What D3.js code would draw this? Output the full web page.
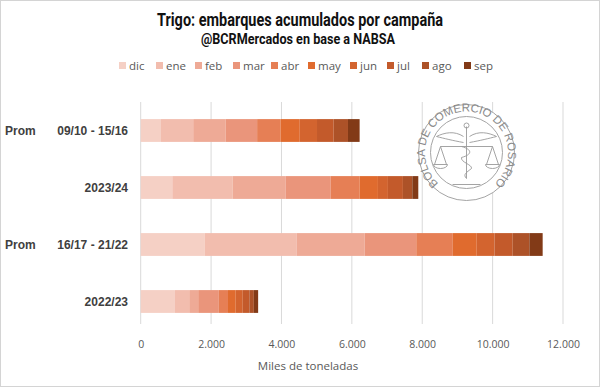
<!DOCTYPE html>
<html>
<head>
<meta charset="utf-8">
<script src="https://cdn.jsdelivr.net/npm/d3@7"></script>
<style>
  body { margin: 0; background: #fff; }
  svg { display: block; }
</style>
</head>
<body>
<div id="chart"></div>
<script>
// campaigns, top to bottom
var campaigns = ["Prom 09/10 - 15/16", "2023/24", "Prom 16/17 - 21/22", "2022/23"];
var months = ["dic", "ene", "feb", "mar", "abr", "may", "jun", "jul", "ago", "sep"];

// monthly shipments (miles de toneladas), one array per campaign, dic..sep
var prom0915 = [576, 916, 919, 897, 664, 548, 490, 474, 406, 331];
var c2324    = [898, 1712, 1504, 1285, 823, 519, 284, 426, 267, 170];
var prom1622 = [1824, 2602, 1937, 1467, 1038, 681, 502, 520, 473, 378];
var c2223    = [973, 407, 254, 586, 260, 220, 200, 187, 128, 122];

var xTicks = [0, 2000, 4000, 6000, 8000, 10000, 12000];

var colors = ["#f5d0c5", "#f2bdae", "#eeaa96", "#ea957b", "#e67f55", "#e06b2e",
              "#d3642f", "#c35a2b", "#ad5228", "#823a17"];

var width = 600, height = 387;
var margin = {top: 102, left: 140.7, right: 37, bottom: 64};

// build rows for the stack
var values = [prom0915, c2324, prom1622, c2223];
var rows = campaigns.map(function(c, i) {
  var r = {campaign: c};
  months.forEach(function(m, j) { r[m] = values[i][j]; });
  return r;
});
var series = d3.stack().keys(months)(rows);

var svg = d3.select("#chart").append("svg")
  .attr("width", width).attr("height", height);

// outer frame
svg.append("rect").attr("x", 0.5).attr("y", 0.5)
  .attr("width", width - 1).attr("height", height - 1)
  .attr("fill", "#fff").attr("stroke", "#d4d4d4");

var x = d3.scaleLinear().domain([0, 12000]).range([margin.left, 563]);
var y = d3.scaleBand().domain(campaigns).range([102, 330]).paddingInner(0.6).paddingOuter(0.3);

// gridlines
svg.append("g").selectAll("line").data(xTicks).enter().append("line")
  .attr("x1", function(d) { return x(d); }).attr("x2", function(d) { return x(d); })
  .attr("y1", 102).attr("y2", 324)
  .attr("stroke", "#d9d9d9").attr("stroke-width", 1);

// seal watermark
var seal = svg.append("g").attr("transform", "translate(466.5,152.5)")
  .attr("fill", "none").attr("stroke", "#9a9a9a").attr("stroke-width", 0.9);
seal.append("circle").attr("r", 48).attr("fill", "#fff");
seal.append("circle").attr("r", 36);
seal.append("path").attr("id", "sealArc").attr("stroke", "none")
  .attr("d", "M -27 32 A 41.5 41.5 0 1 1 27 32");
seal.append("text").attr("stroke", "none").attr("fill", "#8a8a8a")
  .style("font-family", "Liberation Sans, sans-serif").style("font-size", "11.5px")
  .append("textPath").attr("href", "#sealArc").attr("startOffset", "50%")
  .attr("text-anchor", "middle").text("BOLSA DE COMERCIO DE ROSARIO");
// caduceus and scales
seal.append("line").attr("x1", 0).attr("y1", -26).attr("x2", 0).attr("y2", 26);
seal.append("circle").attr("cy", -27).attr("r", 2.5);
seal.append("path").attr("d", "M -3 -16 C -12 -22 -22 -20 -30 -16 C -22 -14 -14 -12 -3 -10");
seal.append("path").attr("d", "M 3 -16 C 12 -22 22 -20 30 -16 C 22 -14 14 -12 3 -10");
seal.append("path").attr("d", "M -5 -6 C 6 -3 6 2 -5 5 C -6 10 6 12 5 16 C 0 20 -4 22 0 26");
seal.append("line").attr("x1", -26).attr("y1", -6).attr("x2", 26).attr("y2", -6);
seal.append("path").attr("d", "M -26 -6 L -32 12 M -26 -6 L -20 12 M -33 12 A 7 4 0 0 0 -19 12 Z");
seal.append("path").attr("d", "M 26 -6 L 20 12 M 26 -6 L 32 12 M 19 12 A 7 4 0 0 0 33 12 Z");
seal.append("line").attr("x1", -14).attr("y1", 32).attr("x2", 14).attr("y2", 32);

// bars
svg.append("g").selectAll("g").data(series).enter().append("g")
  .attr("fill", function(d, i) { return colors[i]; })
  .selectAll("rect").data(function(d) { return d; }).enter().append("rect")
  .attr("x", function(d) { return x(d[0]); })
  .attr("width", function(d) { return x(d[1]) - x(d[0]); })
  .attr("y", function(d) { return y(d.data.campaign); })
  .attr("height", y.bandwidth());

// x axis
var xAxis = svg.append("g").attr("transform", "translate(0,338)")
  .call(d3.axisBottom(x).tickValues(xTicks).tickSize(0)
    .tickFormat(function(d) { return d3.format(",")(d).replace(/,/g, "."); }));
xAxis.select(".domain").remove();
xAxis.selectAll("text").attr("fill", "#595959")
  .style("font-family", "Open Sans, sans-serif").style("font-size", "10.5px");

svg.append("text").attr("x", 308).attr("y", 370).attr("text-anchor", "middle")
  .attr("fill", "#595959").style("font-family", "Open Sans, sans-serif").style("font-size", "11.5px")
  .text("Miles de toneladas");

// y labels
var yLab = svg.append("g").style("font-family", "Liberation Sans, Arial, sans-serif")
  .style("font-size", "12px").style("font-weight", "bold").attr("fill", "#404040");
campaigns.forEach(function(c) {
  var cy = y(c) + y.bandwidth() / 2 + 4;
  if (c.indexOf("Prom") === 0) {
    yLab.append("text").attr("x", 5).attr("y", cy).text("Prom");
    yLab.append("text").attr("x", 128).attr("y", cy).attr("text-anchor", "end").text(c.slice(5));
  } else {
    yLab.append("text").attr("x", 128).attr("y", cy).attr("text-anchor", "end").text(c);
  }
});

// titles (condensed look via textLength)
svg.append("text").attr("x", 157).attr("y", 26)
  .attr("textLength", 286).attr("lengthAdjust", "spacingAndGlyphs")
  .style("font-family", "Roboto, sans-serif").style("font-weight", "bold")
  .style("font-size", "18px").attr("fill", "#111")
  .text("Trigo: embarques acumulados por campaña");
svg.append("text").attr("x", 201).attr("y", 44)
  .attr("textLength", 194).attr("lengthAdjust", "spacingAndGlyphs")
  .style("font-family", "Roboto, sans-serif").style("font-weight", "bold")
  .style("font-size", "14.5px").attr("fill", "#111")
  .text("@BCRMercados en base a NABSA");

// legend
var legend = svg.append("g").attr("transform", "translate(119,70)");
var lx = [0, 37, 76, 114, 152, 189, 231, 268, 303, 345];
months.forEach(function(m, i) {
  var g = legend.append("g").attr("transform", "translate(" + lx[i] + ",0)");
  g.append("rect").attr("x", 0).attr("y", -8).attr("width", 7).attr("height", 7).attr("fill", colors[i]);
  g.append("text").attr("x", 10).attr("y", 0).attr("fill", "#595959")
    .style("font-family", "Open Sans, sans-serif").style("font-size", "11.5px").text(m);
});
</script>
</body>
</html>
